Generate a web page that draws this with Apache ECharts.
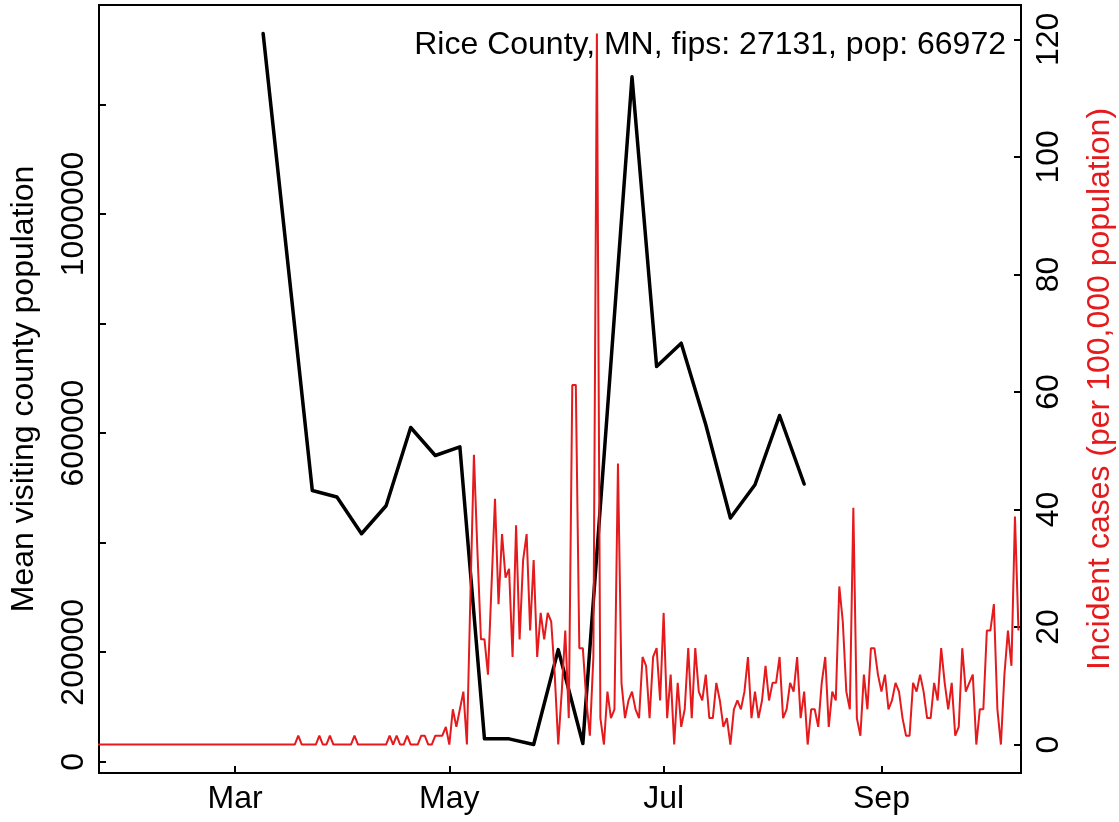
<!DOCTYPE html>
<html>
<head>
<meta charset="utf-8">
<script src="https://cdn.jsdelivr.net/npm/echarts@6/dist/echarts.min.js"></script>
<style>
html,body{margin:0;padding:0;background:#fff;}
#chart{width:1119px;height:822px;}
</style>
</head>
<body>
<div id="chart"></div>
<script>
// ---- data ----
const annotation = 'Rice County, MN, fips: 27131, pop: 66972';
const leftTitle = 'Mean visiting county population';
const rightTitle = 'Incident cases (per 100,000 population)';

// weekly mean visiting county population
const mobilityDates = ['2020-03-09','2020-03-23','2020-03-30','2020-04-06','2020-04-13','2020-04-20','2020-04-27',
  '2020-05-04','2020-05-11','2020-05-18','2020-05-25','2020-06-01','2020-06-08','2020-06-22','2020-06-29',
  '2020-07-06','2020-07-13','2020-07-20','2020-07-27','2020-08-03','2020-08-10'];
const mobilityValues = [1329400,495300,483300,416300,467400,610200,559100,
  575000,41900,41900,31500,204800,33400,1250300,721400,
  764100,615100,445000,505700,632100,507000];

// daily incident cases per 100,000, starting 2020-01-21
const casesStartDate = '2020-01-21';
const casesValues = [
  0,0,0,0,0,0,0,0,0,0,
  0,0,0,0,0,0,0,0,0,0,
  0,0,0,0,0,0,0,0,0,0,
  0,0,0,0,0,0,0,0,0,0,
  0,0,0,0,0,0,0,0,0,0,
  0,0,0,0,0,0,0,0,1.5,0,
  0,0,0,0,1.5,0,0,1.5,0,0,
  0,0,0,0,1.5,0,0,0,0,0,
  0,0,0,0,1.5,0,1.5,0,0,1.5,
  0,0,0,1.5,1.5,0,0,1.5,1.5,1.5,
  3.0,0,6.0,3.0,6.0,9.0,0,25.4,49.3,32.8,
  17.9,17.9,11.9,26.9,41.8,23.9,35.8,28.4,29.9,14.9,
  37.3,17.9,31.4,35.8,19.4,31.4,14.9,22.4,17.9,22.4,
  20.9,11.9,0,9.0,19.4,4.5,61.2,61.2,16.4,16.4,
  7.5,1.5,14.9,121.0,4.5,0,9.0,4.5,6.0,47.8,
  10.5,4.5,7.5,9.0,6.0,4.5,14.9,13.4,4.5,14.9,
  16.4,7.5,22.4,4.5,11.9,0,10.5,3.0,6.0,16.4,
  4.5,16.4,9.0,7.5,11.9,4.5,4.5,10.5,7.5,3.0,
  4.5,0,6.0,7.5,6.0,9.0,14.9,4.5,9.0,4.5,
  7.5,13.4,7.5,10.5,10.5,14.9,4.5,6.0,10.5,9.0,
  14.9,4.5,9.0,0,6.0,6.0,3.0,10.5,14.9,3.0,
  9.0,7.5,26.9,20.9,9.0,6.0,40.3,4.5,1.5,11.9,
  6.0,16.4,16.4,11.9,9.0,11.9,6.0,7.5,10.5,9.0,
  4.5,1.5,1.5,10.5,9.0,11.9,9.0,4.5,4.5,10.5,
  7.5,16.4,10.5,6.0,10.5,1.5,3.0,16.4,9.0,10.5,
  11.9,0,6.0,6.0,19.4,19.4,23.9,6.0,0,11.9,
  19.4,13.4,38.8,19.4
];

const xDataRange = ['2020-02-01','2020-10-01'];
const xTickDates = ['2020-03-01','2020-05-01','2020-07-01','2020-09-01'];
const xTickLabels = ['Mar','May','Jul','Sep'];
const leftTicks = [0,200000,400000,600000,800000,1000000,1200000];
const leftLabels = [0,200000,600000,1000000];
const rightTicks = [0,20,40,60,80,100,120];

// ---- build ----
const DAY = 86400000;
const FONT = '"Liberation Sans", Arial, Helvetica, sans-serif';
const FS = 32;
const RED = '#e41a1c';

function pad(lo, hi){ const d = hi - lo; return [lo - 0.04*d, hi + 0.04*d]; }

const xR = pad(Date.parse(xDataRange[0]), Date.parse(xDataRange[1]));
const yL = pad(Math.min.apply(null, mobilityValues), Math.max.apply(null, mobilityValues));
const yR = pad(Math.min.apply(null, casesValues), Math.max.apply(null, casesValues));

const t0 = Date.parse(casesStartDate);
const casesData = casesValues.map((v,i)=>[t0 + i*DAY, v]);
const mobilityData = mobilityDates.map((d,i)=>[Date.parse(d), mobilityValues[i]]);
const xTickVals = xTickDates.map(d=>Date.parse(d));

const axisLineStyle = {color:'#000', width:2};
const chart = echarts.init(document.getElementById('chart'), null, {renderer:'canvas'});
chart.setOption({
  animation:false,
  backgroundColor:'#fff',
  grid:{left:99, right:98, top:5, bottom:49, containLabel:false, outerBoundsMode:'none',
        show:true, borderColor:'#000', borderWidth:2, backgroundColor:'transparent'},
  xAxis:{
    type:'value', min:xR[0], max:xR[1], scale:true,
    axisLine:{show:true, onZero:false, lineStyle:axisLineStyle},
    axisTick:{show:true, inside:true, length:7, lineStyle:axisLineStyle, customValues:xTickVals},
    axisLabel:{customValues:xTickVals, color:'#000', fontSize:FS, fontFamily:FONT, margin:10,
      formatter:function(v){ const i = xTickVals.indexOf(v); return i>=0 ? xTickLabels[i] : ''; }},
    splitLine:{show:false}, minorTick:{show:false}
  },
  yAxis:[
    {type:'value', position:'left', min:yL[0], max:yL[1],
     axisLine:{show:true, onZero:false, lineStyle:axisLineStyle},
     axisTick:{show:true, inside:true, length:7, lineStyle:axisLineStyle, customValues:leftTicks},
     axisLabel:{customValues:leftLabels, rotate:90, color:'#000', fontSize:FS, fontFamily:FONT, margin:9,
       formatter:function(v){ return String(v); }},
     splitLine:{show:false}},
    {type:'value', position:'right', min:yR[0], max:yR[1],
     axisLine:{show:true, onZero:false, lineStyle:axisLineStyle},
     axisTick:{show:true, inside:true, length:7, lineStyle:axisLineStyle, customValues:rightTicks},
     axisLabel:{customValues:rightTicks, rotate:90, color:'#000', fontSize:FS, fontFamily:FONT, margin:12,
       formatter:function(v){ return String(v); }},
     splitLine:{show:false}}
  ],
  series:[
    {type:'line', name:'mobility', yAxisIndex:0, data:mobilityData, showSymbol:false, symbol:'none',
     lineStyle:{color:'#000', width:3.5, join:'round', cap:'round'}, z:2, clip:true},
    {type:'line', name:'cases', yAxisIndex:1, data:casesData, showSymbol:false, symbol:'none',
     lineStyle:{color:RED, width:2}, z:3, clip:true}
  ],
  graphic:[
    {type:'text', x:1006, y:45.5, z:10,
     style:{text:annotation, fill:'#000', fontSize:FS, fontFamily:FONT, align:'right', verticalAlign:'middle'}},
    {type:'text', x:24, y:389, rotation:Math.PI/2, z:10,
     style:{text:leftTitle, fill:'#000', fontSize:FS, fontFamily:FONT, align:'center', verticalAlign:'middle'}},
    {type:'text', x:1100, y:389, rotation:Math.PI/2, z:10,
     style:{text:rightTitle, fill:RED, fontSize:FS, fontFamily:FONT, align:'center', verticalAlign:'middle'}}
  ]
});
</script>
</body>
</html>
